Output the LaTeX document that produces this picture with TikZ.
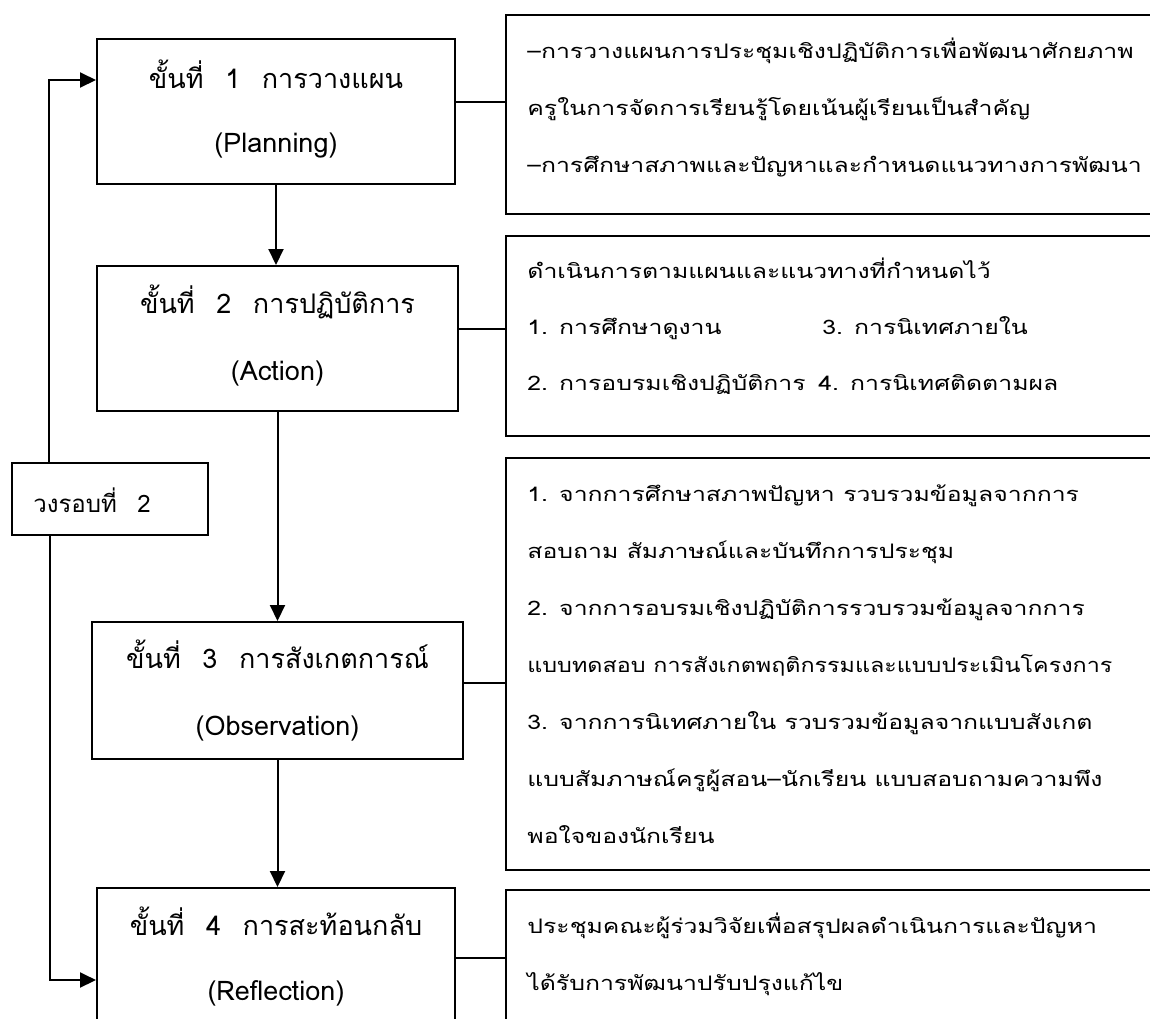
\documentclass[tikz,border=0pt]{standalone}
\usepackage{fontspec}
\usepackage{graphicx}
\setmainfont[Script=Thai]{Loma}
\newfontfamily\rfont[Script=Thai,FakeStretch=1.24]{Loma}
\usetikzlibrary{arrows.meta}
\tikzset{
  stepbox/.style={draw, line width=1pt, inner sep=0pt},
  conn/.style={line width=1pt},
  arr/.style={conn, -{Triangle[width=7.5pt,length=8pt]}},
  ttext/.style={anchor=base, inner sep=0pt, font=\fontsize{13.5}{16}\selectfont},
  ltext/.style={anchor=base west, inner sep=0pt, font=\fontsize{12}{14}\selectfont},
  rtext/.style={anchor=base west, inner sep=0pt, font=\rfont\fontsize{10}{12}\selectfont},
}
\newcommand{\gap}{\hspace{0.8em}}
\begin{document}
\begin{tikzpicture}[x=0.5pt,y=-0.5pt]
\useasboundingbox (0,0) rectangle (1150,1018);
\clip (0,0) rectangle (1150,1018);
% step boxes
\node[stepbox, minimum width=179pt, minimum height=72.5pt] (b1) at (276,111.5) {};
\node[stepbox, minimum width=180.5pt, minimum height=72.5pt] (b2) at (277.5,338.5) {};
\node[stepbox, minimum width=185.5pt, minimum height=68.5pt] (b3) at (277.5,690.5) {};
\node[stepbox, minimum width=179pt, minimum height=70.5pt] (b4) at (276,958.5) {};
\node[stepbox, minimum width=98pt, minimum height=36pt] (L) at (110,499) {};
% right boxes
\node[stepbox, minimum width=332pt, minimum height=99.5pt] (R1) at (838,114.5) {};
\node[stepbox, minimum width=332pt, minimum height=100pt] (R2) at (838,336) {};
\node[stepbox, minimum width=332pt, minimum height=206pt] (R3) at (838,664) {};
\node[stepbox, minimum width=332pt, minimum height=100pt] (R4) at (838,990) {};
% titles
\node[ttext] (t1a) at (276,88) {ขั้นที่\gap 1\gap การวางแผน};
\node[ttext] (t1b) at (276,152) {(Planning)};
\node[ttext] (t2a) at (277.5,313) {ขั้นที่\gap 2\gap การปฏิบัติการ};
\node[ttext] (t2b) at (277.5,380) {(Action)};
\node[ttext] (t3a) at (277.5,668) {ขั้นที่\gap 3\gap การสังเกตการณ์};
\node[ttext] (t3b) at (277.5,735) {(Observation)};
\node[ttext] (t4a) at (276,935) {ขั้นที่\gap 4\gap การสะท้อนกลับ};
\node[ttext] (t4b) at (276,1000) {(Reflection)};
\node[ltext] (tL) at (33,512) {วงรอบที่\hspace{0.85em}2};
% right texts
\node[rtext] (r1a) at (527,58) {–การวางแผนการประชุมเชิงปฏิบัติการเพื่อพัฒนาศักยภาพ};
\node[rtext] (r1b) at (527,115) {ครูในการจัดการเรียนรู้โดยเน้นผู้เรียนเป็นสำคัญ};
\node[rtext] (r1c) at (527,172) {–การศึกษาสภาพและปัญหาและกำหนดแนวทางการพัฒนา};
\node[rtext] (r2a) at (527,278) {ดำเนินการตามแผนและแนวทางที่กำหนดไว้};
\node[rtext] (r2b) at (527,334) {1. การศึกษาดูงาน};
\node[rtext] (r2c) at (822,334) {3. การนิเทศภายใน};
\node[rtext] (r2d) at (527,390) {2. การอบรมเชิงปฏิบัติการ};
\node[rtext] (r2e) at (818,390) {4. การนิเทศติดตามผล};
\node[rtext] (r3a) at (527,501) {1. จากการศึกษาสภาพปัญหา รวบรวมข้อมูลจากการ};
\node[rtext] (r3b) at (527,558) {สอบถาม สัมภาษณ์และบันทึกการประชุม};
\node[rtext] (r3c) at (527,615) {2. จากการอบรมเชิงปฏิบัติการรวบรวมข้อมูลจากการ};
\node[rtext] (r3d) at (527,672) {\scalebox{0.94}[1]{แบบทดสอบ การสังเกตพฤติกรรมและแบบประเมินโครงการ}};
\node[rtext] (r3e) at (527,729) {3. จากการนิเทศภายใน รวบรวมข้อมูลจากแบบสังเกต};
\node[rtext] (r3f) at (527,786) {แบบสัมภาษณ์ครูผู้สอน–นักเรียน แบบสอบถามความพึง};
\node[rtext] (r3g) at (527,843) {พอใจของนักเรียน};
\node[rtext] (r4a) at (527,933) {ประชุมคณะผู้ร่วมวิจัยเพื่อสรุปผลดำเนินการและปัญหา};
\node[rtext] (r4b) at (527,990) {ได้รับการพัฒนาปรับปรุงแก้ไข};
% vertical arrows
\draw[arr] (b1.south) -- (b1.south |- b2.north);
\draw[arr] (b2.south) -- (b2.south |- b3.north);
\draw[arr] (b3.south) -- (b3.south |- b4.north);
% loop
\coordinate (c1) at (49,80);
\coordinate (c4) at (50,980);
\draw[arr] (L.north -| c1) |- (b1.west |- c1);
\draw[arr] (L.south -| c4) |- (b4.west |- c4);
% horizontal connectors
\coordinate (h1) at (0,102);
\coordinate (h2) at (0,329);
\coordinate (h3) at (0,683);
\coordinate (h4) at (0,958);
\draw[conn] (b1.east |- h1) -- (R1.west |- h1);
\draw[conn] (b2.east |- h2) -- (R2.west |- h2);
\draw[conn] (b3.east |- h3) -- (R3.west |- h3);
\draw[conn] (b4.east |- h4) -- (R4.west |- h4);
\end{tikzpicture}
\end{document}
